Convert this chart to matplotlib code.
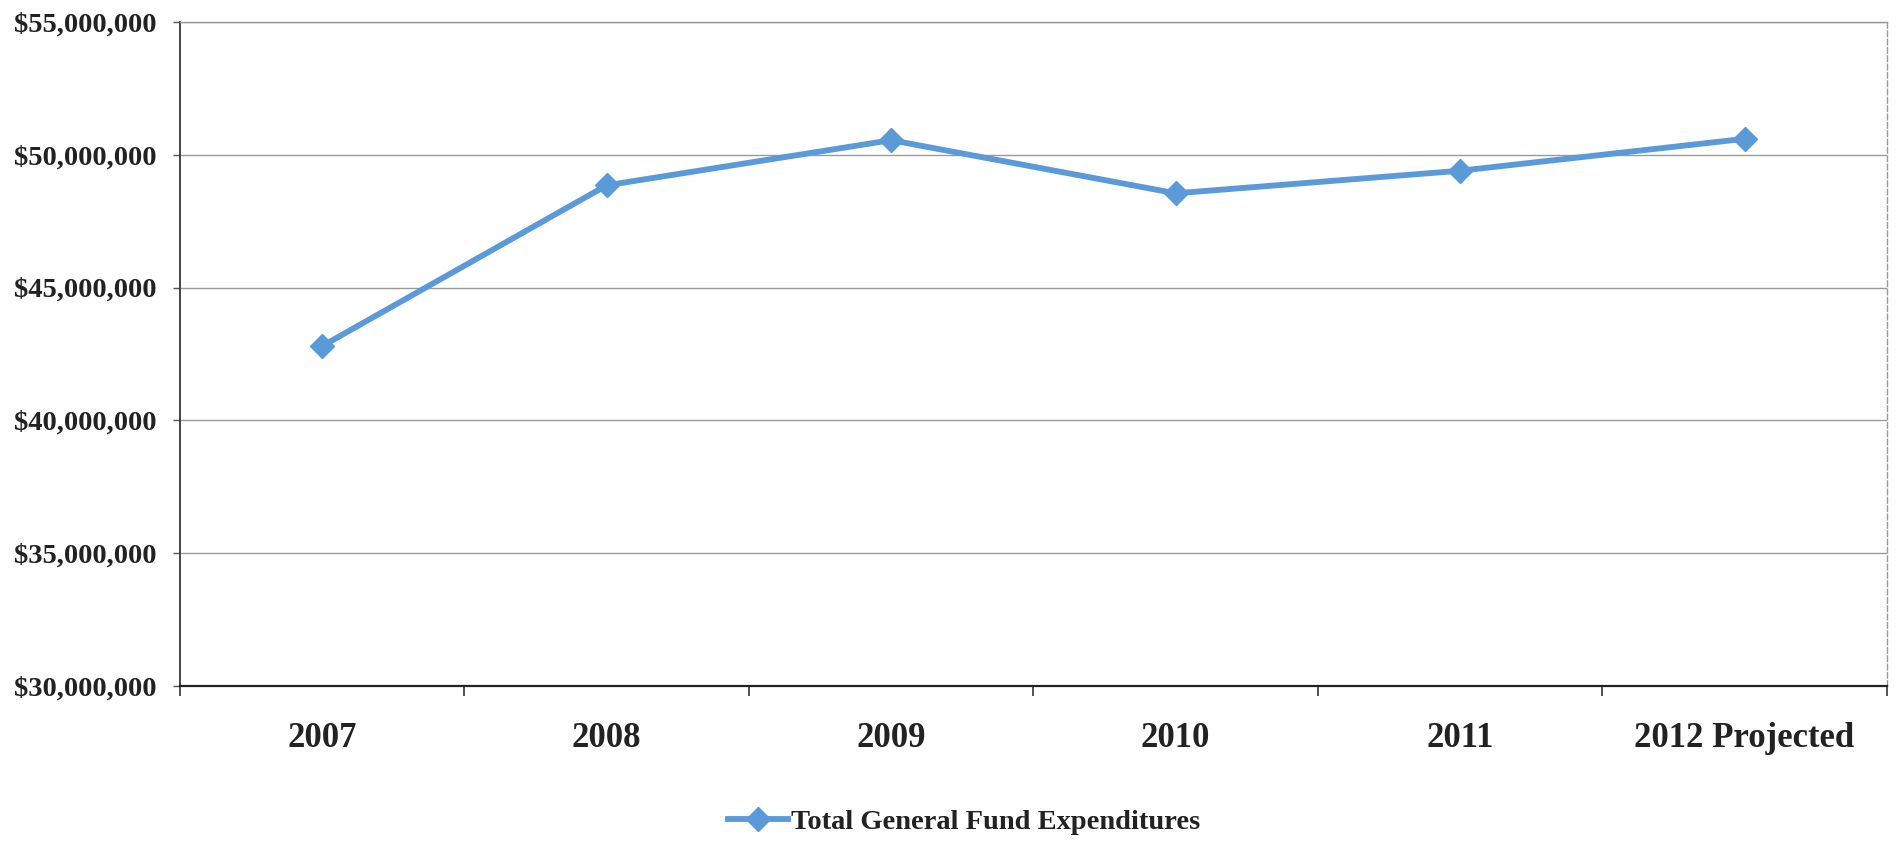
import matplotlib
matplotlib.use("Agg")
import matplotlib.pyplot as plt
from matplotlib.ticker import FuncFormatter, MultipleLocator

categories = ["2007", "2008", "2009", "2010", "2011", "2012 Projected"]
expenditures = [42_800_000, 48_850_000, 50_550_000, 48_550_000, 49_400_000, 50_600_000]
series_name = "Total General Fund Expenditures"

plt.rcParams['font.family'] = ['Liberation Serif', 'DejaVu Serif']

fig = plt.figure(figsize=(19.02, 8.44), dpi=100)
ax = fig.add_axes([0.0946, 0.187, 0.8974, 0.787])

x = list(range(len(categories)))
line_color = "#5b9ad8"
ax.plot(x, expenditures, color=line_color, lw=4.2, marker="D", ms=12.5,
        markerfacecolor=line_color, markeredgecolor=line_color, label=series_name,
        zorder=3)

ax.set_xlim(-0.5, len(categories) - 0.5)
ax.set_ylim(30_000_000, 55_000_000)
ax.yaxis.set_major_locator(MultipleLocator(5_000_000))
ax.yaxis.set_major_formatter(FuncFormatter(lambda v, p: f"${v:,.0f}"))
ax.grid(axis="y", color="#9a9a9a", lw=1.0, ls="-")
ax.set_axisbelow(True)

ax.set_xticks(x)
ax.set_xticklabels(categories)
ax.set_xticks([i + 0.5 for i in range(-1, len(categories))], minor=True)
ax.tick_params(axis="x", which="major", length=0, pad=26, labelsize=25, labelcolor="#222222")
ax.tick_params(axis="x", which="minor", length=7, width=1.2, color="#333333", direction="out")
ax.tick_params(axis="y", length=5, width=1.0, color="#555555", pad=12, labelsize=20.5,
               labelcolor="#222222")
for lbl in ax.get_xticklabels() + ax.get_yticklabels():
    lbl.set_fontweight("bold")

ax.spines["left"].set_color("#444444")
ax.spines["left"].set_linewidth(1.4)
ax.spines["bottom"].set_color("#222222")
ax.spines["bottom"].set_linewidth(1.6)
ax.spines["top"].set_color("#9a9a9a")
ax.spines["top"].set_linewidth(1.0)
ax.spines["right"].set_color("#9a9a9a")
ax.spines["right"].set_linestyle((0, (4, 2)))
ax.spines["right"].set_linewidth(1.0)

leg = fig.legend(loc="center", bbox_to_anchor=(0.507, 0.026), frameon=False,
                 prop={"weight": "bold", "size": 20.5}, handlelength=2.1,
                 handletextpad=0.1, labelcolor="#222222")

fig.savefig("out.png", dpi=100, facecolor="white")
